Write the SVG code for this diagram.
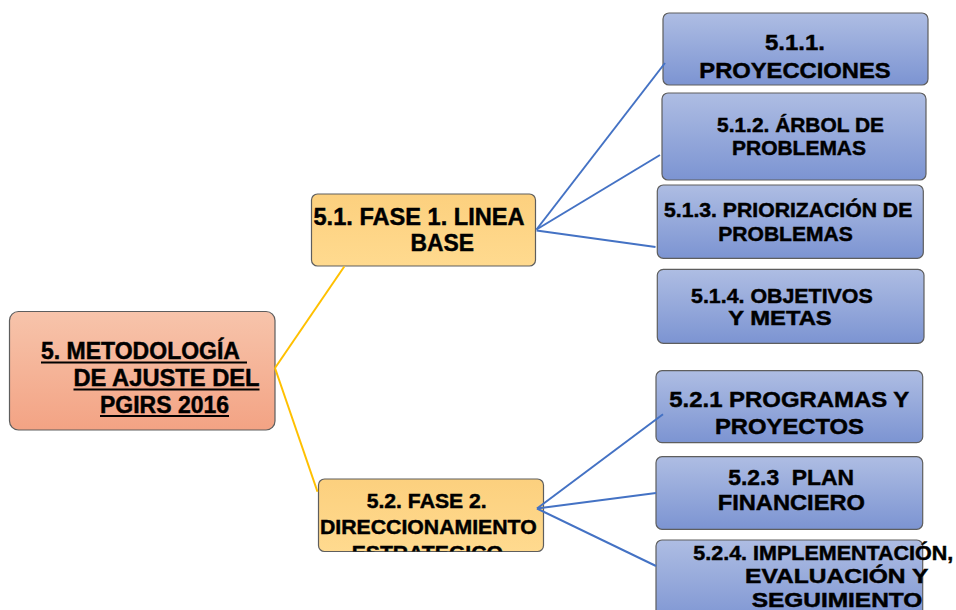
<svg xmlns="http://www.w3.org/2000/svg" width="956" height="610" viewBox="0 0 956 610">
<defs>
<linearGradient id="gRoot" x1="0" y1="0" x2="0" y2="1"><stop offset="0" stop-color="#f7c4ab"/><stop offset="1" stop-color="#f3a384"/></linearGradient>
<linearGradient id="gPhase" x1="0" y1="0" x2="0" y2="1"><stop offset="0" stop-color="#fcd07e"/><stop offset="1" stop-color="#ffda8f"/></linearGradient>
<linearGradient id="gBlue" x1="0" y1="0" x2="0" y2="1"><stop offset="0" stop-color="#aebde3"/><stop offset="1" stop-color="#7c94d2"/></linearGradient>
<clipPath id="clipF2"><rect x="318.5" y="479" width="225" height="72.5" rx="6"/></clipPath>
<style>
.box{stroke:#5e5e5e;stroke-width:1.2}
.root{fill:url(#gRoot)}
.phase{fill:url(#gPhase)}
.leaf{fill:url(#gBlue)}
text{font-family:"Liberation Sans",Arial,sans-serif;font-weight:bold;fill:#000;stroke:#000;stroke-width:0.45}
.ul{stroke:#000;stroke-width:2}
.cy{stroke:#ffc000;stroke-width:2;fill:none}
.cb{stroke:#4472c4;stroke-width:2;fill:none}
</style>
</defs>
<rect width="956" height="610" fill="#ffffff"/>

<g id="node-root">
<rect class="box root" x="9.5" y="311.5" width="265.5" height="118.5" rx="9"/>
<text font-size="23" x="41" y="359" textLength="199" lengthAdjust="spacingAndGlyphs">5. METODOLOGÍA</text>
<text font-size="23" x="73.5" y="386" textLength="186" lengthAdjust="spacingAndGlyphs">DE AJUSTE DEL</text>
<text font-size="23" x="100" y="412.5" textLength="129" lengthAdjust="spacingAndGlyphs">PGIRS 2016</text>
<line class="ul" x1="41" y1="362.5" x2="247" y2="362.5"/>
<line class="ul" x1="73.5" y1="389.5" x2="259.5" y2="389.5"/>
<line class="ul" x1="100" y1="416" x2="229" y2="416"/>
</g>

<g id="node-fase1">
<rect class="box phase" x="311.5" y="194" width="224" height="72" rx="6"/>
<text font-size="23" x="313.5" y="224.5" textLength="211" lengthAdjust="spacingAndGlyphs">5.1. FASE 1. LINEA</text>
<text font-size="23" x="410.5" y="250.5" textLength="63.5" lengthAdjust="spacingAndGlyphs">BASE</text>
</g>

<g id="node-fase2">
<rect class="box phase" x="318.5" y="479" width="225" height="72.5" rx="6"/>
<g clip-path="url(#clipF2)">
<text font-size="20.5" x="366.7" y="508.3" textLength="120" lengthAdjust="spacingAndGlyphs">5.2. FASE 2.</text>
<text font-size="20.5" x="320" y="534" textLength="216.7" lengthAdjust="spacingAndGlyphs">DIRECCIONAMIENTO</text>
<text font-size="20.5" x="351.7" y="559.7" textLength="151.3" lengthAdjust="spacingAndGlyphs">ESTRATEGICO</text>
</g>
</g>

<g id="node-511">
<rect class="box leaf" x="663" y="13" width="265" height="72" rx="6"/>
<text font-size="22.5" x="765" y="50" textLength="60" lengthAdjust="spacingAndGlyphs">5.1.1.</text>
<text font-size="22.5" x="699.3" y="78.3" textLength="191.4" lengthAdjust="spacingAndGlyphs">PROYECCIONES</text>
</g>

<g id="node-512">
<rect class="box leaf" x="662" y="93" width="264" height="87" rx="6"/>
<text font-size="19.5" x="717" y="132" textLength="167" lengthAdjust="spacingAndGlyphs">5.1.2. ÁRBOL DE</text>
<text font-size="19.5" x="732" y="155" textLength="134" lengthAdjust="spacingAndGlyphs">PROBLEMAS</text>
</g>

<g id="node-513">
<rect class="box leaf" x="657.3" y="185" width="266" height="73.3" rx="6"/>
<text font-size="19.5" x="664" y="216.7" textLength="248.3" lengthAdjust="spacingAndGlyphs">5.1.3. PRIORIZACIÓN DE</text>
<text font-size="19.5" x="718.3" y="240.7" textLength="134.4" lengthAdjust="spacingAndGlyphs">PROBLEMAS</text>
</g>

<g id="node-514">
<rect class="box leaf" x="657.3" y="269.3" width="266.7" height="74" rx="6"/>
<text font-size="20" x="691" y="303.3" textLength="181.7" lengthAdjust="spacingAndGlyphs">5.1.4. OBJETIVOS</text>
<text font-size="20" x="728.3" y="325" textLength="103.4" lengthAdjust="spacingAndGlyphs">Y METAS</text>
</g>

<g id="node-521">
<rect class="box leaf" x="656" y="370.7" width="266.7" height="72" rx="6"/>
<text font-size="22.5" x="669.3" y="407.3" textLength="240" lengthAdjust="spacingAndGlyphs">5.2.1 PROGRAMAS Y</text>
<text font-size="22.5" x="715" y="434" textLength="149" lengthAdjust="spacingAndGlyphs">PROYECTOS</text>
</g>

<g id="node-523">
<rect class="box leaf" x="656" y="456.7" width="266.7" height="72.6" rx="6"/>
<text font-size="22.5" x="728.3" y="484.5" textLength="125.7" lengthAdjust="spacingAndGlyphs" xml:space="preserve">5.2.3  PLAN</text>
<text font-size="22.5" x="717.7" y="510" textLength="147.3" lengthAdjust="spacingAndGlyphs">FINANCIERO</text>
</g>

<g id="node-524">
<rect class="box leaf" x="656" y="540" width="266.7" height="85" rx="6"/>
<text font-size="19.5" x="693.3" y="560" textLength="260" lengthAdjust="spacingAndGlyphs">5.2.4. IMPLEMENTACIÓN,</text>
<text font-size="19.5" x="745" y="583.3" textLength="183.3" lengthAdjust="spacingAndGlyphs">EVALUACIÓN Y</text>
<text font-size="19.5" x="751.7" y="606.7" textLength="170.6" lengthAdjust="spacingAndGlyphs">SEGUIMIENTO</text>
</g>

<g id="connectors">
<path class="cy" d="M275,368 L344.3,266.5"/>
<path class="cy" d="M275,368 L317.5,491.7"/>
<path class="cb" d="M536.5,229.5 L665,63"/>
<path class="cb" d="M536.5,229.5 L660,155"/>
<path class="cb" d="M536.5,230.5 L655.5,247"/>
<path class="cb" d="M537,508.5 L663,414.3"/>
<path class="cb" d="M537,508.5 L656,493"/>
<path class="cb" d="M537,508.5 L656,566"/>
</g>
</svg>
